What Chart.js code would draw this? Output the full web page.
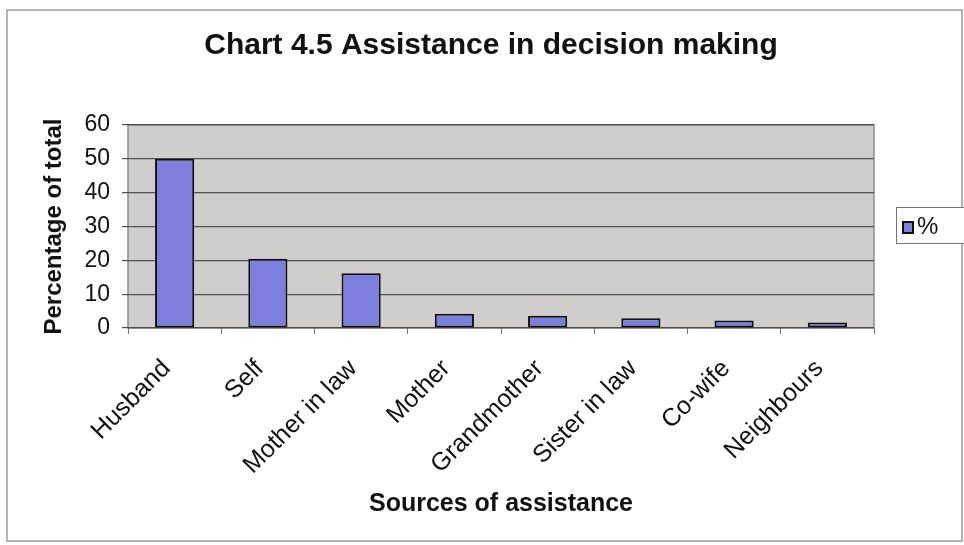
<!DOCTYPE html>
<html>
<head>
<meta charset="utf-8">
<script src="https://cdn.jsdelivr.net/npm/chart.js@4/dist/chart.umd.min.js"></script>
<style>
    html, body { margin: 0; padding: 0; background: #fff; }
    #wrap { width: 964px; height: 545px; }
</style>
</head>
<body>
<div id="wrap"><canvas id="assistChart" width="964" height="545"></canvas></div>
<script>
// Chart 4.5 - sources of assistance in decision making
const chartTitle = 'Chart 4.5 Assistance in decision making';
const sources = ['Husband', 'Self', 'Mother in law', 'Mother', 'Grandmother', 'Sister in law', 'Co-wife', 'Neighbours'];
const percentValues = [50, 20.5, 16.2, 4.2, 3.6, 2.9, 2.2, 1.6];
const yTicks = [0, 10, 20, 30, 40, 50, 60];
const seriesName = '%';

const FONT = 'Liberation Sans, Arial, sans-serif';
const BAR_FILL = '#7c80dc';
const PLOT_BG = '#d0cdcd';

// background, frame, plot area, title and legend
const framePlugin = {
    id: 'frame',
    beforeDraw(chart) {
        const ctx = chart.ctx;
        const a = chart.chartArea;
        ctx.save();
        ctx.fillStyle = '#fff';
        ctx.fillRect(0, 0, chart.width, chart.height);
        ctx.strokeStyle = '#9a9a9a';
        ctx.lineWidth = 1.5;
        ctx.strokeRect(7, 10, 955, 531);
        ctx.fillStyle = PLOT_BG;
        ctx.fillRect(a.left, a.top, a.right - a.left, a.bottom - a.top);
        ctx.strokeStyle = '#8a8a8a';
        ctx.lineWidth = 1.5;
        ctx.strokeRect(a.left, a.top, a.right - a.left, a.bottom - a.top);
        ctx.restore();
    },
    afterDraw(chart) {
        const ctx = chart.ctx;
        ctx.save();
        // title
        ctx.fillStyle = '#111';
        ctx.font = 'bold 30px ' + FONT;
        ctx.textAlign = 'center';
        ctx.textBaseline = 'middle';
        ctx.fillText(chartTitle, 491, 46);

        // legend box on the right
        ctx.strokeStyle = '#777';
        ctx.lineWidth = 1;
        ctx.fillStyle = '#fff';
        ctx.fillRect(896.5, 207.5, 70, 36);
        ctx.strokeRect(896.5, 207.5, 70, 36);
        ctx.fillStyle = BAR_FILL;
        ctx.fillRect(903, 222, 10, 11);
        ctx.strokeStyle = '#111';
        ctx.lineWidth = 2;
        ctx.strokeRect(903, 222, 10, 11);
        ctx.fillStyle = '#111';
        ctx.font = '24px ' + FONT;
        ctx.textAlign = 'left';
        ctx.textBaseline = 'middle';
        ctx.fillText(seriesName, 917, 227);
        ctx.restore();
    }
};

const ctx = document.getElementById('assistChart').getContext('2d');
const chart = new Chart(ctx, {
    type: 'bar',
    data: {
        labels: sources,
        datasets: [{
            label: seriesName,
            data: percentValues,
            backgroundColor: BAR_FILL,
            borderColor: '#111',
            borderWidth: 2,
            borderSkipped: false,
            categoryPercentage: 1,
            barPercentage: 0.42
        }]
    },
    options: {
        responsive: false,
        animation: false,
        layout: { padding: { top: 125, right: 90, bottom: 0, left: 0 } },
        plugins: {
            legend: { display: false },
            tooltip: { enabled: false },
            title: { display: false }
        },
        scales: {
            x: {
                grid: { drawOnChartArea: false, drawTicks: true, tickLength: 6, color: '#777', offset: true },
                border: { display: false },
                ticks: {
                    color: '#111',
                    font: { family: FONT, size: 25 },
                    minRotation: 45,
                    maxRotation: 45,
                    autoSkip: false,
                    padding: 20,
                    labelOffset: -8
                },
                title: {
                    display: true,
                    text: 'Sources of assistance',
                    color: '#111',
                    font: { family: FONT, size: 25, weight: 'bold' },
                    padding: { top: 0, bottom: 26 }
                },
                afterFit(scale) { scale.height = 217; }
            },
            y: {
                min: 0,
                max: 60,
                afterBuildTicks(scale) { scale.ticks = yTicks.map(v => ({ value: v })); },
                grid: { color: '#505050', lineWidth: 1.2, tickLength: 6, drawTicks: true },
                border: { display: false },
                ticks: {
                    color: '#111',
                    font: { family: FONT, size: 23 },
                    padding: 12
                },
                title: {
                    display: true,
                    text: 'Percentage of total',
                    color: '#111',
                    font: { family: FONT, size: 24, weight: 'bold' },
                    padding: { top: 40, bottom: 0 }
                },
                afterFit(scale) { scale.width = 128; }
            }
        }
    },
    plugins: [framePlugin]
});
</script>
</body>
</html>
